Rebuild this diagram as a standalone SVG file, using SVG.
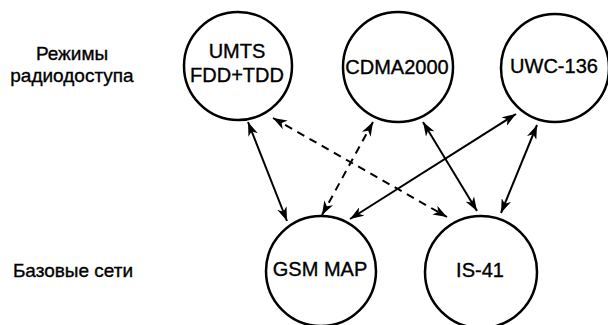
<svg xmlns="http://www.w3.org/2000/svg" width="608" height="325" viewBox="0 0 608 325">
<style>
.node{fill:#fff;stroke:#000;stroke-width:2.5}
.lbl{font-family:"Liberation Sans",Arial,sans-serif;font-size:20px;fill:#000;stroke:#000;stroke-width:0.35;text-anchor:middle}
.side{font-family:"Liberation Sans",Arial,sans-serif;font-size:19px;fill:#000;stroke:#000;stroke-width:0.35;text-anchor:middle}
.c{stroke:#000;stroke-width:2;fill:none;marker-start:url(#ah);marker-end:url(#ah)}
.d{stroke-dasharray:8 6}
</style>
<defs>
<marker id="ah" markerUnits="userSpaceOnUse" markerWidth="15" markerHeight="10" refX="14" refY="5" orient="auto-start-reverse" viewBox="0 0 15 10">
<path d="M0,0 L14,5 L0,10 L4,5 z" fill="#000"/>
</marker>
</defs>
<rect width="608" height="325" fill="#fff"/>
<g id="side-labels">
<text class="side" x="72" y="60">Режимы</text>
<text class="side" x="72" y="82">радиодоступа</text>
<text class="side" x="73" y="277">Базовые сети</text>
</g>
<g id="connectors">
<line class="c" x1="248" y1="122" x2="287" y2="221"/>
<line class="c d" x1="273" y1="118" x2="447" y2="217"/>
<line class="c d" x1="373" y1="122" x2="322" y2="215"/>
<line class="c" x1="423" y1="122" x2="477" y2="211"/>
<line class="c" x1="516" y1="114" x2="350" y2="219"/>
<line class="c" x1="537" y1="125" x2="501" y2="213"/>
</g>
<g id="umts">
<circle class="node" cx="238" cy="66" r="54"/>
<text class="lbl" x="237" y="58">UMTS</text>
<text class="lbl" x="237" y="82">FDD+TDD</text>
</g>
<g id="cdma2000">
<circle class="node" cx="398" cy="67" r="55"/>
<text class="lbl" x="397" y="74">CDMA2000</text>
</g>
<g id="uwc136">
<circle class="node" cx="555" cy="68" r="54"/>
<text class="lbl" x="554" y="73">UWC-136</text>
</g>
<g id="gsmmap">
<circle class="node" cx="321" cy="271" r="55"/>
<text class="lbl" x="320" y="276">GSM MAP</text>
</g>
<g id="is41">
<circle class="node" cx="481" cy="272" r="56"/>
<text class="lbl" x="480" y="277">IS-41</text>
</g>
</svg>
